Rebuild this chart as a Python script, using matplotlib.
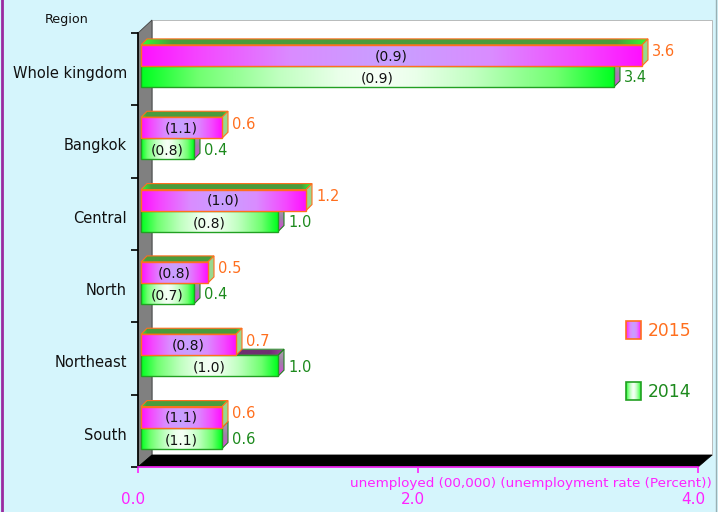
import numpy as np
import matplotlib
matplotlib.use("Agg")
import matplotlib.pyplot as plt
from matplotlib.patches import Polygon, Rectangle
from matplotlib.colors import LinearSegmentedColormap
from matplotlib.transforms import ScaledTranslation

# ---------------- data ----------------
regions = ["Whole kingdom", "Bangkok", "Central", "North", "Northeast", "South"]
unemp_2015 = [3.6, 0.6, 1.2, 0.5, 0.7, 0.6]
unemp_2014 = [3.4, 0.4, 1.0, 0.4, 1.0, 0.6]
rate_2015 = [0.9, 1.1, 1.0, 0.8, 0.8, 1.1]
rate_2014 = [0.9, 0.8, 0.8, 0.7, 1.0, 1.1]
xticks = [0.0, 2.0, 4.0]
xtick_labels = ["0.0", "2.0", "4.0"]
series_names = ["2015", "2014"]

# ---------------- style ----------------
W, H = 718, 512
BG = "#d5f5fc"
ORANGE = "#ff6f1e"
GREEN_T = "#1d8a1d"
MAG = "#ff22ff"
plt.rcParams["font.family"] = ["DejaVu Sans"]

fig = plt.figure(figsize=(W / 100, H / 100), dpi=100, facecolor=BG)

# background decoration axes in pixel coords
bg = fig.add_axes([0, 0, 1, 1])
bg.set_xlim(0, W)
bg.set_ylim(H, 0)
bg.axis("off")
bg.add_patch(Rectangle((152, 20), 560, 435, facecolor="white", edgecolor="#b0b0b0", lw=0.6))
bg.add_patch(Polygon([(138, 33), (152, 20), (152, 455), (138, 467)], closed=True,
                     facecolor="#808080", edgecolor="#404040", lw=0.6))
bg.add_patch(Polygon([(138, 467), (152, 455), (712, 455), (698, 467)], closed=True,
                     facecolor="black", edgecolor="black", lw=0.6))
bg.plot([2, 2], [0, H], color="#9a2aa0", lw=2)
bg.plot([716, 716], [0, H], color="#9ab0b4", lw=1)
bg.text(67, 20, "Region", ha="center", va="center", fontsize=9.2, color="#111111")

# main axes: front plane
ax = fig.add_axes([138 / W, (H - 467) / H, 560 / W, 434 / H])
ax.set_facecolor("none")
ax.set_xlim(0, 4)
ax.set_ylim(5.5, -0.5)


def sym_cmap(name, stops):
    pts = []
    for p, c in stops:
        pts.append((p, c))
    for p, c in reversed(stops[:-1]):
        pts.append((1 - p, c))
    return LinearSegmentedColormap.from_list(name, pts)


cm15 = sym_cmap("m", [(0.0, "#ff10ff"), (0.12, "#f448ff"), (0.3, "#da8cff"), (0.5, "#c8a0ff")])
cm14 = sym_cmap("g", [(0.0, "#00ff20"), (0.12, "#70ff70"), (0.29, "#c0ffc0"), (0.42, "#eaffea"), (0.5, "#f6fff6")])
cmtop = sym_cmap("t", [(0.0, "#30ff30"), (0.06, "#4a9c3c"), (0.5, "#4a9c3c")])
cmtop14 = sym_cmap("t2", [(0.0, "#a040a0"), (0.1, "#703070"), (0.5, "#703070")])
cmside14 = LinearSegmentedColormap.from_list("s2", ["#b0a0b0", "#a080a8", "#e040e0"])

grad = np.linspace(0, 1, 256).reshape(1, -1)
gradv = np.linspace(0, 1, 64).reshape(-1, 1)

dx = 6 / 140.0
dy = 6 / 72.0
hgt = 0.29
x0 = 3 / 140.0


def gfill(poly, cmap, ext, z, vertical=False):
    ax.add_patch(poly)
    im = ax.imshow(gradv if vertical else grad, extent=ext, aspect="auto", cmap=cmap,
                   zorder=z, interpolation="bilinear")
    im.set_clip_path(poly)


y = np.arange(len(regions))
y15 = y - 0.19
y14 = y + 0.10

# 2014 bars (drawn first; lower)
for yc, v in zip(y14, unemp_2014):
    yt, yb = yc - hgt / 2, yc + hgt / 2
    top = Polygon([(x0, yt), (x0 + dx, yt - dy), (v + dx, yt - dy), (v, yt)], closed=True,
                  facecolor="none", edgecolor="#40a040", lw=0.8, zorder=2)
    gfill(top, cmtop14, [x0, v + dx, yt, yt - dy], 1.5)
    side = Polygon([(v, yt), (v + dx, yt - dy), (v + dx, yb - dy), (v, yb)], closed=True,
                   facecolor="none", edgecolor="#208020", lw=0.8, zorder=2)
    gfill(side, cmside14, [v, v + dx, yb, yt - dy], 1.5, vertical=True)
bars14 = ax.barh(y14, [v - x0 for v in unemp_2014], left=x0, height=hgt, facecolor="none",
                 edgecolor="#22a022", lw=1.0, zorder=3)
for b in bars14:
    im = ax.imshow(grad, extent=[b.get_x(), b.get_x() + b.get_width(), b.get_y() + b.get_height(), b.get_y()],
                   aspect="auto", cmap=cm14, zorder=2.5, interpolation="bilinear")
    im.set_clip_path(b)

# 2015 bars
for yc, v in zip(y15, unemp_2015):
    yt, yb = yc - hgt / 2, yc + hgt / 2
    top = Polygon([(x0, yt), (x0 + dx, yt - dy), (v + dx, yt - dy), (v, yt)], closed=True,
                  facecolor="none", edgecolor=ORANGE, lw=0.8, zorder=4)
    gfill(top, cmtop, [x0, v + dx, yt, yt - dy], 3.5)
    side = Polygon([(v, yt), (v + dx, yt - dy), (v + dx, yb - dy), (v, yb)], closed=True,
                   facecolor="#98d890", edgecolor=ORANGE, lw=0.8, zorder=4)
    ax.add_patch(side)
bars15 = ax.barh(y15, [v - x0 for v in unemp_2015], left=x0, height=hgt, facecolor="none",
                 edgecolor=ORANGE, lw=1.0, zorder=5)
for b in bars15:
    im = ax.imshow(grad, extent=[b.get_x(), b.get_x() + b.get_width(), b.get_y() + b.get_height(), b.get_y()],
                   aspect="auto", cmap=cm15, zorder=4.5, interpolation="bilinear")
    im.set_clip_path(b)

# labels
for yc, v, r in zip(y15, unemp_2015, rate_2015):
    ax.text((x0 + v) / 2, yc + 0.01, f"({r:.1f})", ha="center", va="center", fontsize=10, color="#111111", zorder=6)
    ax.annotate(f"{v:.1f}", (v + dx, yc - 0.05), xytext=(3, 0), textcoords="offset points",
                ha="left", va="center", fontsize=10.5, color=ORANGE, zorder=6)
for yc, v, r in zip(y14, unemp_2014, rate_2014):
    ax.text((x0 + v) / 2, yc + 0.03, f"({r:.1f})", ha="center", va="center", fontsize=10, color="#111111", zorder=6)
    ax.annotate(f"{v:.1f}", (v + dx, yc + 0.02), xytext=(3, 0), textcoords="offset points",
                ha="left", va="center", fontsize=10.5, color=GREEN_T, zorder=6)

ax.set_xlim(0, 4)
ax.set_ylim(5.5, -0.5)

# axes styling
for s in ["top", "right"]:
    ax.spines[s].set_visible(False)
ax.spines["left"].set_color("black")
ax.spines["left"].set_linewidth(1.2)
ax.spines["bottom"].set_color(MAG)
ax.spines["bottom"].set_linewidth(1.2)

ax.set_yticks(y + 0.04)
ax.set_yticklabels(regions, fontsize=10.5, color="#111111")
ax.tick_params(axis="y", length=0, pad=8)
ax.set_yticks(np.arange(-0.5, 6.0, 1.0), minor=True)
ax.tick_params(axis="y", which="minor", length=5, color="black", width=1.2)

ax.set_xticks(xticks)
ax.set_xticklabels(xtick_labels, fontsize=11, color=MAG)
ax.tick_params(axis="x", length=4.3, color=MAG, width=1.2, pad=14)
off = ScaledTranslation(-5 / 100, 0, fig.dpi_scale_trans)
for lab in ax.get_xticklabels():
    lab.set_transform(lab.get_transform() + off)

fig.text(712 / W, 1 - 484 / H, "unemployed (00,000) (unemployment rate (Percent))",
         ha="right", va="center", fontsize=9.7, color=MAG)

# legend
lg = fig.add_axes([0, 0, 1, 1], facecolor="none")
lg.set_xlim(0, W)
lg.set_ylim(H, 0)
lg.axis("off")
for (yy, cmap, ec, name, tc) in [(321, cm15, ORANGE, series_names[0], ORANGE),
                                 (382, cm14, "#22a022", series_names[1], GREEN_T)]:
    r = Rectangle((626, yy), 15, 18, facecolor="none", edgecolor=ec, lw=1.2, zorder=3)
    lg.add_patch(r)
    im = lg.imshow(grad, extent=[626, 641, yy + 18, yy], aspect="auto", cmap=cmap, zorder=2)
    im.set_clip_path(r)
    lg.text(648, yy + 10, name, ha="left", va="center", fontsize=12.3, color=tc)
lg.set_xlim(0, W)
lg.set_ylim(H, 0)

fig.savefig("out.png", dpi=100, facecolor=BG)
